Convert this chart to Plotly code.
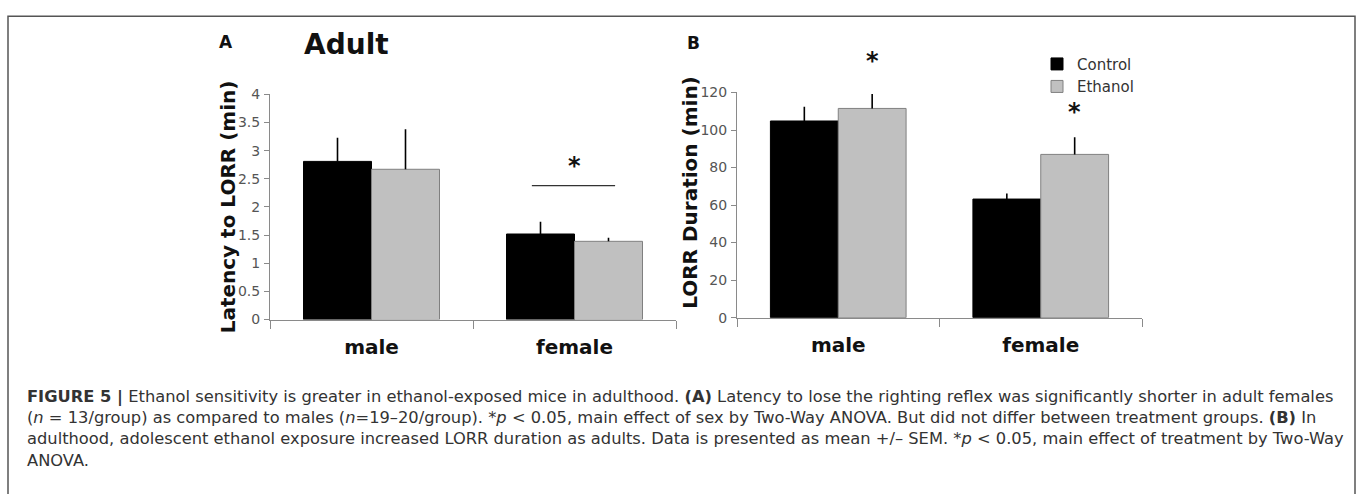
import plotly.graph_objects as go

# ---------------- data ----------------
categories = ["male", "female"]
groups = ["Control", "Ethanol"]

latency_control = [2.81, 1.52]
latency_control_sem = [0.42, 0.22]
latency_ethanol = [2.67, 1.39]
latency_ethanol_sem = [0.71, 0.065]

duration_control = [104.8, 63.2]
duration_control_sem = [7.6, 2.9]
duration_ethanol = [111.5, 87.0]
duration_ethanol_sem = [7.7, 9.2]

latency_range = [0, 4]
duration_range = [0, 120]
latency_ticks = [0, 0.5, 1, 1.5, 2, 2.5, 3, 3.5, 4]
latency_tick_text = ["0", "0.5", "1", "1.5", "2", "2.5", "3", "3.5", "4"]
duration_ticks = [0, 20, 40, 60, 80, 100, 120]
duration_tick_text = ["0", "20", "40", "60", "80", "100", "120"]

# significance markers (value positions)
latency_sig_bracket = [0.79, 1.2, 2.38]      # x0, x1 (category units), y value
latency_sig_star = ["female", 2.73]
duration_sig_stars = [("male", 136.6), ("female", 109.8)]

caption_lines = [
    "<b>FIGURE 5 |</b> Ethanol sensitivity is greater in ethanol-exposed mice in adulthood. "
    "<b>(A)</b> Latency to lose the righting reflex was significantly shorter in adult females",
    "(<i>n</i> = 13/group) as compared to males (<i>n</i>=19–20/group). *<i>p</i> &lt; 0.05, "
    "main effect of sex by Two-Way ANOVA. But did not differ between treatment groups. <b>(B)</b> In",
    "adulthood, adolescent ethanol exposure increased LORR duration as adults. Data is presented "
    "as mean +/– SEM. *<i>p</i> &lt; 0.05, main effect of treatment by Two-Way",
    "ANOVA.",
]

# ---------------- layout helpers ----------------
W, H = 1358, 494
def fx(px):
    return px / W
def fy(py):
    return 1 - py / H

CHART_FONT = "DejaVu Sans"
CAP_FONT = "DejaVu Sans, sans-serif"
BARGAP = 0.33
ctrl_color, eth_color = "#000000", "#c0c0c0"

fig = go.Figure()

def add_bars(vals, sems, name, color, lcolor, xa, ya, show):
    fig.add_trace(go.Bar(
        x=categories, y=vals, name=name, xaxis=xa, yaxis=ya,
        marker=dict(color=color, line=dict(color=lcolor, width=1)),
        error_y=dict(type="data", array=sems, arrayminus=[0] * len(sems),
                     symmetric=False, color="#000000", thickness=1.6, width=0),
        showlegend=show, legendgroup=name, offsetgroup=name,
    ))

add_bars(latency_control, latency_control_sem, groups[0], ctrl_color, "#000000", "x", "y", False)
add_bars(latency_ethanol, latency_ethanol_sem, groups[1], eth_color, "#808080", "x", "y", False)
add_bars(duration_control, duration_control_sem, groups[0], ctrl_color, "#000000", "x2", "y2", True)
add_bars(duration_ethanol, duration_ethanol_sem, groups[1], eth_color, "#808080", "x2", "y2", True)

xcommon = dict(type="category", range=[-0.5, 1.5], showline=True, linecolor="#8a8a8a",
               linewidth=1, ticks="outside", tickson="boundaries", ticklen=8,
               tickcolor="#8a8a8a", tickwidth=1, showgrid=False, zeroline=False,
               tickfont=dict(family=CHART_FONT, size=20, color="#111111", weight="bold"),
               ticklabelstandoff=9, fixedrange=True)
ycommon = dict(showline=True, linecolor="#8a8a8a", linewidth=1, ticks="outside",
               ticklen=5, tickcolor="#8a8a8a", tickwidth=1, showgrid=False,
               zeroline=False, tickfont=dict(family=CHART_FONT, size=14, color="#555555"),
               ticklabelstandoff=1, fixedrange=True)

fig.update_layout(
    width=W, height=H, margin=dict(l=0, r=0, t=0, b=0),
    paper_bgcolor="white", plot_bgcolor="white",
    barmode="group", bargap=BARGAP, bargroupgap=0,
    xaxis=dict(domain=[fx(270), fx(676)], anchor="y", **xcommon),
    yaxis=dict(domain=[fy(322), fy(89.3)], anchor="x", range=latency_range,
               tickvals=latency_ticks, ticktext=latency_tick_text, **ycommon),
    xaxis2=dict(domain=[fx(737), fx(1142)], anchor="y2", **xcommon),
    yaxis2=dict(domain=[fy(320), fy(87.3)], anchor="x2", range=duration_range,
                tickvals=duration_ticks, ticktext=duration_tick_text, **ycommon),
    legend=dict(x=fx(1037), xanchor="left", y=fy(41), yanchor="top",
                font=dict(family=CHART_FONT, size=15, color="#333333"),
                bgcolor="rgba(0,0,0,0)", tracegroupgap=0, itemwidth=30),
    showlegend=True,
)

def pann(text, px, py, size, angle=0):
    return dict(text=text, x=fx(px), y=fy(py), xref="paper", yref="paper",
                xanchor="center", yanchor="middle", textangle=angle, showarrow=False,
                font=dict(family=CHART_FONT, size=size, color="#111111"))

ann = [
    pann("<b>A</b>", 226, 35, 17),
    pann("<b>Adult</b>", 346, 38, 28),
    pann("<b>B</b>", 693, 36, 17),
    pann("<b>Latency to LORR (min)</b>", 228, 205, 20, -90),
    pann("<b>LORR Duration (min)</b>", 690, 191, 20, -90),
]
# significance stars (positioned by data values via axis domains)
star_font = dict(family=CHART_FONT, size=24, color="#111111")
eth_offset = (1 - BARGAP) / 4
ann.append(dict(text="<b>*</b>", x=categories.index(latency_sig_star[0]),
                y=latency_sig_star[1] / latency_range[1], xref="x", yref="y domain",
                xanchor="center", yanchor="middle", showarrow=False, font=star_font))
for cat, yv in duration_sig_stars:
    ann.append(dict(text="<b>*</b>", x=categories.index(cat) + eth_offset,
                    y=yv / duration_range[1], xref="x2", yref="y2 domain",
                    xanchor="center", yanchor="middle", showarrow=False, font=star_font))
# caption (one multi-line text block)
ann.append(dict(text="<br>".join(caption_lines), x=fx(25), y=fy(435), xref="paper",
                yref="paper", xanchor="left", yanchor="middle", align="left",
                showarrow=False, font=dict(family=CAP_FONT, size=16.3, color="#333333")))
fig.update_layout(annotations=ann)

shapes = [
    # figure frame
    dict(type="rect", xref="paper", yref="paper", x0=fx(8), x1=fx(1355), y0=-0.05, y1=fy(8.5),
         line=dict(color="#555555", width=1.5), fillcolor="rgba(0,0,0,0)", layer="below"),
    # significance bracket in panel A
    dict(type="line", xref="x", yref="y", x0=latency_sig_bracket[0], x1=latency_sig_bracket[1],
         y0=latency_sig_bracket[2], y1=latency_sig_bracket[2],
         line=dict(color="#333333", width=1.3)),
]
fig.update_layout(shapes=shapes)

fig.write_html("out.html")
